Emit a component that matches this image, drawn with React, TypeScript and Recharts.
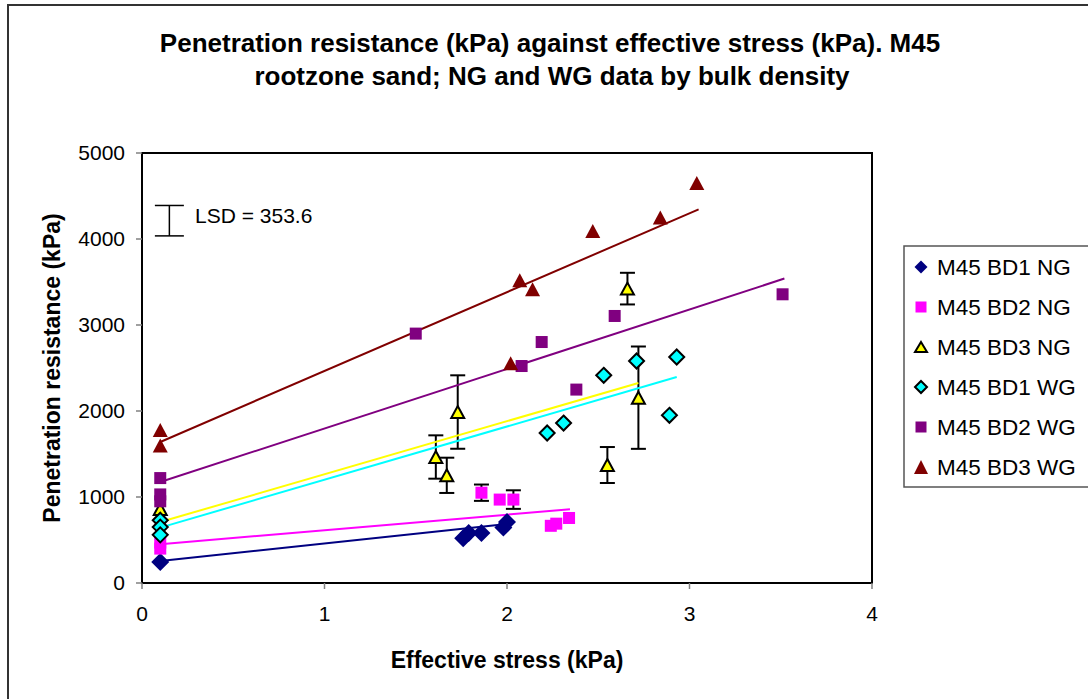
import React from 'react';
import { ScatterChart, Scatter, XAxis, YAxis, ErrorBar, ReferenceArea, Customized } from 'recharts';

const FONT = '"Liberation Sans", Arial, Helvetica, sans-serif';

const titleLines = ['Penetration resistance (kPa) against effective stress (kPa). M45', 'rootzone sand; NG and WG data by bulk density'];
const xLabel = 'Effective stress (kPa)';
const yLabel = 'Penetration resistance (kPa)';
const xTicks = [0, 1, 2, 3, 4];
const yTicks = [0, 1000, 2000, 3000, 4000, 5000];
const seriesNames = ['M45 BD1 NG', 'M45 BD2 NG', 'M45 BD3 NG', 'M45 BD1 WG', 'M45 BD2 WG', 'M45 BD3 WG'];

// data points (x = effective stress, y = penetration resistance, err = error bar half-length)
const bd1NG = [
  { x: 0.1, y: 245 }, { x: 1.76, y: 520 }, { x: 1.79, y: 580 }, { x: 1.86, y: 580 }, { x: 1.98, y: 645 }, { x: 2.0, y: 710 },
];
const bd2NG = [
  { x: 0.1, y: 470 }, { x: 0.1, y: 400 }, { x: 1.86, y: 1050, err: 95 }, { x: 1.96, y: 970 }, { x: 2.035, y: 970, err: 108 },
  { x: 2.24, y: 665 }, { x: 2.27, y: 690 }, { x: 2.34, y: 756 },
];
const bd3NG = [
  { x: 0.1, y: 860 }, { x: 1.61, y: 1465, err: 252 }, { x: 1.67, y: 1252, err: 205 }, { x: 1.73, y: 1988, err: 427 },
  { x: 2.55, y: 1372, err: 209 }, { x: 2.66, y: 3423, err: 184 }, { x: 2.72, y: 2155, err: 595 },
];
const bd1WG = [
  { x: 0.1, y: 730 }, { x: 0.1, y: 650 }, { x: 0.1, y: 560 }, { x: 2.22, y: 1744 }, { x: 2.31, y: 1860 }, { x: 2.53, y: 2415 },
  { x: 2.71, y: 2581 }, { x: 2.89, y: 1950 }, { x: 2.93, y: 2628 },
];
const bd2WG = [
  { x: 0.1, y: 1220 }, { x: 0.1, y: 1030 }, { x: 0.1, y: 950 }, { x: 1.5, y: 2900 }, { x: 2.08, y: 2523 }, { x: 2.19, y: 2802 },
  { x: 2.38, y: 2249 }, { x: 2.59, y: 3105 }, { x: 3.51, y: 3357 },
];
const bd3WG = [
  { x: 0.1, y: 1780 }, { x: 0.1, y: 1600 }, { x: 2.02, y: 2555 }, { x: 2.07, y: 3520 }, { x: 2.14, y: 3415 },
  { x: 2.47, y: 4093 }, { x: 2.84, y: 4249 }, { x: 3.04, y: 4651 },
];

// linear trend line end points
const trendBD1NG = [{ x: 0.1, y: 256 }, { x: 2.0, y: 685 }];
const trendBD2NG = [{ x: 0.1, y: 450 }, { x: 2.345, y: 857 }];
const trendBD3NG = [{ x: 0.1, y: 709 }, { x: 2.72, y: 2326 }];
const trendBD1WG = [{ x: 0.1, y: 644 }, { x: 2.93, y: 2395 }];
const trendBD2WG = [{ x: 0.1, y: 1174 }, { x: 3.52, y: 3540 }];
const trendBD3WG = [{ x: 0.1, y: 1640 }, { x: 3.05, y: 4345 }];

// LSD indicator
const lsdValue = 353.6;
const lsdPoint = [{ x: 0.15, y: 4213, err: lsdValue / 2 }];

const NAVY = '#000080';
const MAGENTA = '#FF00FF';
const YELLOW = '#FFFF00';
const CYAN = '#00FFFF';
const PURPLE = '#800080';
const DARKRED = '#800000';

const diamond = (cx: number, cy: number, h: number, fill: string, stroke?: string, sw = 0) => (
  <polygon points={`${cx},${cy - h} ${cx + h},${cy} ${cx},${cy + h} ${cx - h},${cy}`} fill={fill} stroke={stroke || 'none'} strokeWidth={sw} />
);
const square = (cx: number, cy: number, s: number, fill: string) => (
  <rect x={cx - s / 2} y={cy - s / 2} width={s} height={s} fill={fill} />
);
const triangle = (cx: number, cy: number, w: number, h: number, fill: string, stroke?: string, sw = 0) => (
  <polygon points={`${cx},${cy - h / 2} ${cx + w / 2},${cy + h / 2} ${cx - w / 2},${cy + h / 2}`} fill={fill} stroke={stroke || 'none'} strokeWidth={sw} strokeLinejoin="miter" />
);

const shapeBD1NG = (p: any) => diamond(p.cx, p.cy, 9, NAVY);
const shapeBD2NG = (p: any) => square(p.cx, p.cy, 12, MAGENTA);
const shapeBD3NG = (p: any) => triangle(p.cx, p.cy, 13, 12, YELLOW, '#000', 2);
const shapeBD1WG = (p: any) => diamond(p.cx, p.cy, 7.5, CYAN, '#000', 2);
const shapeBD2WG = (p: any) => square(p.cx, p.cy, 12, PURPLE);
const shapeBD3WG = (p: any) => triangle(p.cx, p.cy, 15, 14, DARKRED);
const noShape = () => <g />;

const legendIcons = [
  (cx: number, cy: number) => diamond(cx, cy, 6.5, NAVY),
  (cx: number, cy: number) => square(cx, cy, 11, MAGENTA),
  (cx: number, cy: number) => triangle(cx, cy, 12, 10, YELLOW, '#000', 2),
  (cx: number, cy: number) => diamond(cx, cy, 6, CYAN, '#000', 2),
  (cx: number, cy: number) => square(cx, cy, 11, PURPLE),
  (cx: number, cy: number) => triangle(cx, cy, 14, 14, DARKRED),
];

const Annotations = () => (
  <g fontFamily={FONT}>
    <text x={550} y={43} dy="0.35em" textAnchor="middle" fontSize={26} fontWeight="bold" fill="#000">{titleLines[0]}</text>
    <text x={552} y={76} dy="0.35em" textAnchor="middle" fontSize={26} fontWeight="bold" fill="#000">{titleLines[1]}</text>
    <text x={507} y={660} dy="0.35em" textAnchor="middle" fontSize={23} fontWeight="bold" fill="#000">{xLabel}</text>
    <text x={52} y={368} dy="0.35em" textAnchor="middle" fontSize={23} fontWeight="bold" fill="#000" transform="rotate(-90 52 368)">{yLabel}</text>
    <text x={195} y={216} dy="0.35em" fontSize={21} fill="#000">{`LSD = ${lsdValue}`}</text>
    <rect x={904} y={246} width={200} height={241} fill="#fff" stroke="#555" strokeWidth={1.5} />
    {seriesNames.map((name, i) => (
      <g key={name}>
        {legendIcons[i](921, 267 + i * 40)}
        <text x={937} y={267 + i * 40} dy="0.35em" fontSize={22.5} fill="#000">{name}</text>
      </g>
    ))}
  </g>
);

export default function App() {
  return (
    <div style={{ position: 'absolute', left: 0, top: 0, width: 1088, height: 699, overflow: 'hidden', background: '#fff' }}>
      <div style={{ position: 'absolute', left: 7, top: 4, width: 2000, height: 2000, borderLeft: '2px solid #333', borderTop: '2px solid #333' }} />
      <div style={{ position: 'absolute', left: 0, top: 0 }}>
        <ScatterChart width={1088} height={699} margin={{ top: 153, right: 216, bottom: 0, left: 0 }}>
          <XAxis
            type="number"
            dataKey="x"
            domain={[0, 4]}
            ticks={xTicks}
            height={116}
            tickSize={6}
            tickMargin={17}
            tick={{ fill: '#000', fontSize: 21, fontFamily: FONT }}
            axisLine={{ stroke: '#000', strokeWidth: 2 }}
            tickLine={{ stroke: '#808080', strokeWidth: 1.5 }}
            allowDataOverflow
          />
          <YAxis
            type="number"
            dataKey="y"
            domain={[0, 5000]}
            ticks={yTicks}
            width={142}
            tickSize={6}
            tickMargin={11}
            tick={{ fill: '#000', fontSize: 21, fontFamily: FONT }}
            axisLine={{ stroke: '#000', strokeWidth: 2 }}
            tickLine={{ stroke: '#808080', strokeWidth: 1.5 }}
            allowDataOverflow
          />
          <ReferenceArea x1={0} x2={4} y1={0} y2={5000} fill="none" stroke="#000" strokeWidth={2} ifOverflow="visible" />
          <Scatter data={trendBD1NG} shape={noShape} line={{ stroke: NAVY, strokeWidth: 2 }} isAnimationActive={false} legendType="none" />
          <Scatter data={trendBD2NG} shape={noShape} line={{ stroke: MAGENTA, strokeWidth: 2 }} isAnimationActive={false} legendType="none" />
          <Scatter data={trendBD3NG} shape={noShape} line={{ stroke: YELLOW, strokeWidth: 2 }} isAnimationActive={false} legendType="none" />
          <Scatter data={trendBD1WG} shape={noShape} line={{ stroke: CYAN, strokeWidth: 2 }} isAnimationActive={false} legendType="none" />
          <Scatter data={trendBD2WG} shape={noShape} line={{ stroke: PURPLE, strokeWidth: 2 }} isAnimationActive={false} legendType="none" />
          <Scatter data={trendBD3WG} shape={noShape} line={{ stroke: DARKRED, strokeWidth: 2 }} isAnimationActive={false} legendType="none" />
          <Scatter data={lsdPoint} shape={noShape} isAnimationActive={false} legendType="none">
            <ErrorBar dataKey="err" direction="y" width={14.5} stroke="#000" strokeWidth={1.5} />
          </Scatter>
          <Scatter name={seriesNames[0]} data={bd1NG} shape={shapeBD1NG} isAnimationActive={false} />
          <Scatter name={seriesNames[1]} data={bd2NG} shape={shapeBD2NG} isAnimationActive={false}>
            <ErrorBar dataKey="err" direction="y" width={7.5} stroke="#000" strokeWidth={2} />
          </Scatter>
          <Scatter name={seriesNames[2]} data={bd3NG} shape={shapeBD3NG} isAnimationActive={false}>
            <ErrorBar dataKey="err" direction="y" width={7.5} stroke="#000" strokeWidth={2} />
          </Scatter>
          <Scatter name={seriesNames[3]} data={bd1WG} shape={shapeBD1WG} isAnimationActive={false} />
          <Scatter name={seriesNames[4]} data={bd2WG} shape={shapeBD2WG} isAnimationActive={false} />
          <Scatter name={seriesNames[5]} data={bd3WG} shape={shapeBD3WG} isAnimationActive={false} />
          <Customized component={Annotations} />
        </ScatterChart>
      </div>
    </div>
  );
}
